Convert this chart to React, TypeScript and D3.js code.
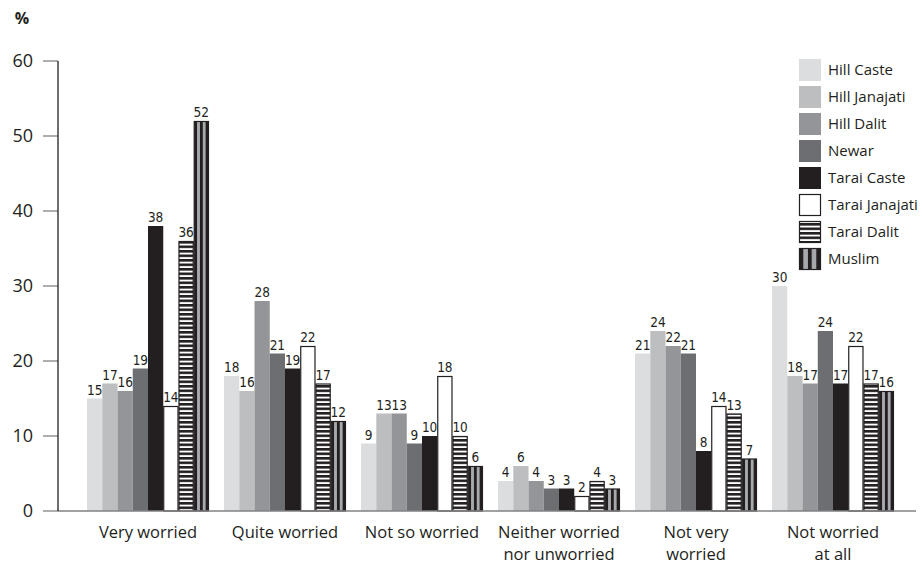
import React from "react";
import * as d3 from "d3";

// Share of respondents by level of worry, per caste/ethnic group (%)
const categories = [
  ["Very worried"],
  ["Quite worried"],
  ["Not so worried"],
  ["Neither worried", "nor unworried"],
  ["Not very", "worried"],
  ["Not worried", "at all"],
];
const groups = [
  "Hill Caste",
  "Hill Janajati",
  "Hill Dalit",
  "Newar",
  "Tarai Caste",
  "Tarai Janajati",
  "Tarai Dalit",
  "Muslim",
];
const hillCaste = [15, 18, 9, 4, 21, 30];
const hillJanajati = [17, 16, 13, 6, 24, 18];
const hillDalit = [16, 28, 13, 4, 22, 17];
const newar = [19, 21, 9, 3, 21, 24];
const taraiCaste = [38, 19, 10, 3, 8, 17];
const taraiJanajati = [14, 22, 18, 2, 14, 22];
const taraiDalit = [36, 17, 10, 4, 13, 17];
const muslim = [52, 12, 6, 3, 7, 16];
const series = [hillCaste, hillJanajati, hillDalit, newar, taraiCaste, taraiJanajati, taraiDalit, muslim];
const yTicks = [0, 10, 20, 30, 40, 50, 60];

const W = 922;
const H = 565;
const FONT = "'Open Sans', 'Noto Sans', sans-serif";
const NARROW = "'Liberation Sans Narrow', 'DejaVu Sans Condensed', 'Open Sans', sans-serif";
const INK = "#231f20";

const fills = [
  "#dcdddf",
  "#bcbec0",
  "#939598",
  "#6d6e71",
  INK,
  "#ffffff",
  "url(#hstripe)",
  "url(#vstripe)",
];
const strokes = [null, null, null, null, null, INK, INK, INK];

export default function App() {
  const catKeys = categories.map((c) => c.join(" "));
  const x0 = d3
    .scaleBand<string>()
    .domain(catKeys)
    .range([79.5, 901.5])
    .paddingInner(0.11)
    .paddingOuter(0.055);
  const x1 = d3.scaleBand<string>().domain(groups).range([0, x0.bandwidth()]);
  const y = d3.scaleLinear().domain([0, 60]).range([511, 61]);
  const bw = x1.bandwidth();

  return (
    <svg width={W} height={H} style={{ display: "block", position: "absolute", left: 0, top: 0 }}>
      <defs>
        <pattern id="hstripe" patternUnits="userSpaceOnUse" width={8} height={4.5} y={y(0)}>
          <rect width={8} height={4.5} fill="#ffffff" />
          <rect width={8} height={2.6} fill={INK} />
        </pattern>
        <pattern
          id="vstripe"
          patternUnits="objectBoundingBox"
          patternContentUnits="objectBoundingBox"
          width={0.4}
          height={1}
        >
          <rect x={0} y={0} width={0.2} height={1} fill={INK} />
          <rect x={0.2} y={0} width={0.2} height={1} fill="#a7a9ac" />
        </pattern>
      </defs>

      {/* y axis */}
      <text x={22} y={24} fontFamily={FONT} fontSize={16} fontWeight="bold" fill={INK} textAnchor="middle">
        %
      </text>
      {yTicks.map((t) => (
        <g key={t}>
          <line x1={43} x2={58} y1={y(t)} y2={y(t)} stroke="#808285" strokeWidth={1.3} />
          <text
            x={33}
            y={y(t)}
            dy="0.35em"
            textAnchor="end"
            fontFamily={FONT}
            fontSize={18}
            fill={INK}
          >
            {t}
          </text>
        </g>
      ))}

      {/* bars */}
      {categories.map((cat, ci) => {
        const key = catKeys[ci];
        const gx = x0(key)!;
        return (
          <g key={key}>
            {series.map((vals, si) => {
              const v = vals[ci];
              const bx = gx + x1(groups[si])!;
              const by = y(v);
              const stroke = strokes[si];
              return (
                <g key={si}>
                  <rect
                    x={stroke ? bx + 0.5 : bx}
                    y={stroke ? by + 0.5 : by}
                    width={stroke ? bw - 1 : bw}
                    height={stroke ? y(0) - by - 0.5 : y(0) - by}
                    fill={fills[si]}
                    stroke={stroke ?? "none"}
                    strokeWidth={1.2}
                  />
                  <text
                    x={bx + bw / 2}
                    y={by - 4}
                    textAnchor="middle"
                    fontFamily={NARROW}
                    fontSize={13.5}
                    fill={INK}
                  >
                    {v}
                  </text>
                </g>
              );
            })}
            {cat.map((line, li) => (
              <text
                key={li}
                x={gx + x0.bandwidth() / 2}
                y={538 + li * 22}
                textAnchor="middle"
                fontFamily={FONT}
                fontSize={16.5}
                fill={INK}
              >
                {line}
              </text>
            ))}
          </g>
        );
      })}

      {/* axis lines */}
      <line x1={58} x2={916} y1={y(0)} y2={y(0)} stroke="#808285" strokeWidth={1.5} />
      <line x1={58} x2={58} y1={y(60)} y2={y(0)} stroke={INK} strokeWidth={1.3} />

      {/* legend */}
      {groups.map((g, i) => {
        const ly = 59 + i * 27;
        const stroke = strokes[i];
        return (
          <g key={g}>
            <rect
              x={stroke ? 799.5 : 799}
              y={stroke ? ly + 0.5 : ly}
              width={stroke ? 21 : 22}
              height={stroke ? 21 : 22}
              fill={fills[i]}
              stroke={stroke ?? "none"}
              strokeWidth={1.2}
            />
            <text x={828} y={ly + 11} dy="0.35em" fontFamily={FONT} fontSize={15} fill={INK}>
              {g}
            </text>
          </g>
        );
      })}
    </svg>
  );
}
